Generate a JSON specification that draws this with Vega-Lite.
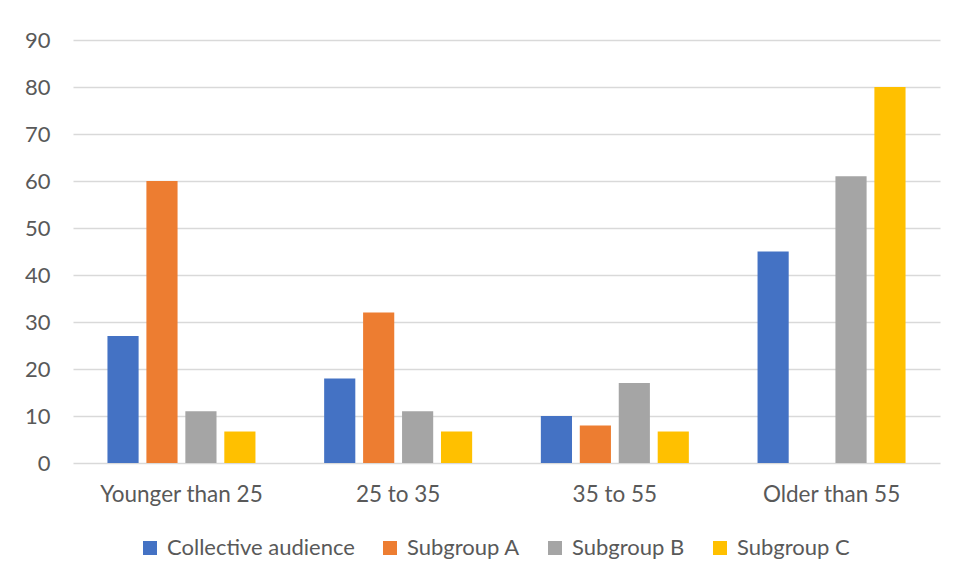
{
  "$schema": "https://vega.github.io/schema/vega-lite/v6.json",
  "autosize": "none",
  "width": 867,
  "height": 423,
  "padding": {"left": 73, "top": 40, "right": 18, "bottom": 118},
  "background": "white",
  "data": {
    "values": [
      {"age": "Younger than 25", "group": "Collective audience", "value": 27},
      {"age": "Younger than 25", "group": "Subgroup A", "value": 60},
      {"age": "Younger than 25", "group": "Subgroup B", "value": 11},
      {"age": "Younger than 25", "group": "Subgroup C", "value": 6.7},
      {"age": "25 to 35", "group": "Collective audience", "value": 18},
      {"age": "25 to 35", "group": "Subgroup A", "value": 32},
      {"age": "25 to 35", "group": "Subgroup B", "value": 11},
      {"age": "25 to 35", "group": "Subgroup C", "value": 6.7},
      {"age": "35 to 55", "group": "Collective audience", "value": 10},
      {"age": "35 to 55", "group": "Subgroup A", "value": 8},
      {"age": "35 to 55", "group": "Subgroup B", "value": 17},
      {"age": "35 to 55", "group": "Subgroup C", "value": 6.7},
      {"age": "Older than 55", "group": "Collective audience", "value": 45},
      {"age": "Older than 55", "group": "Subgroup A", "value": 0},
      {"age": "Older than 55", "group": "Subgroup B", "value": 61},
      {"age": "Older than 55", "group": "Subgroup C", "value": 80}
    ]
  },
  "mark": {"type": "bar"},
  "encoding": {
    "x": {
      "field": "age",
      "type": "nominal",
      "sort": ["Younger than 25", "25 to 35", "35 to 55", "Older than 55"],
      "scale": {"paddingInner": 0.317, "paddingOuter": 0.159},
      "axis": {
        "title": null,
        "labelAngle": 0,
        "ticks": false,
        "domain": false,
        "labelPadding": 20,
        "labelFont": "Lato",
        "labelFontSize": 22.5,
        "labelColor": "#595959",
        "labelLimit": 400
      }
    },
    "xOffset": {
      "field": "group",
      "type": "nominal",
      "scale": {"paddingInner": 0.2, "paddingOuter": 0}
    },
    "y": {
      "field": "value",
      "type": "quantitative",
      "scale": {"domain": [0, 90], "nice": false},
      "axis": {
        "title": null,
        "values": [0, 10, 20, 30, 40, 50, 60, 70, 80, 90],
        "ticks": false,
        "domain": false,
        "labelPadding": 23,
        "labelFont": "Lato",
        "labelFontSize": 22,
        "labelColor": "#595959",
        "gridColor": "#d9d9d9",
        "gridWidth": 1.3
      }
    },
    "color": {
      "field": "group",
      "type": "nominal",
      "scale": {
        "domain": ["Collective audience", "Subgroup A", "Subgroup B", "Subgroup C"],
        "range": ["#4472C4", "#ED7D31", "#A5A5A5", "#FFC000"]
      },
      "legend": {
        "title": null,
        "orient": "none",
        "direction": "horizontal",
        "legendX": 66,
        "legendY": 497,
        "symbolType": "square",
        "symbolSize": 196,
        "symbolStrokeWidth": 0,
        "labelFont": "Lato",
        "labelFontSize": 22,
        "labelColor": "#595959",
        "labelOffset": 6,
        "labelLimit": 400,
        "columnPadding": 24
      }
    }
  },
  "config": {
    "view": {"stroke": null}
  }
}
